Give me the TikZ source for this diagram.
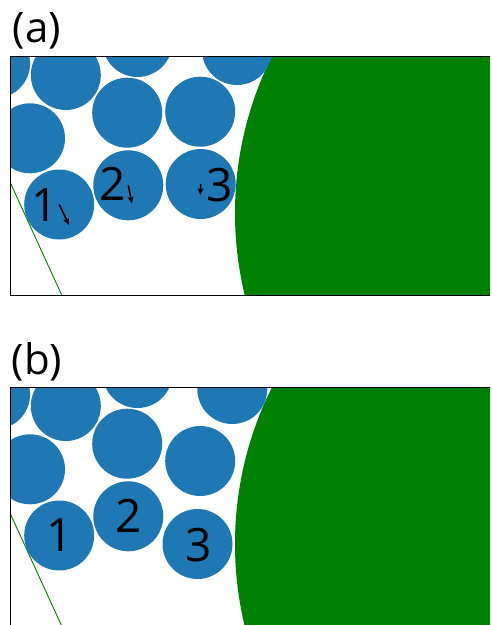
\documentclass[tikz,border=0pt]{standalone}
\usepackage{fontspec}
\setmainfont{Open Sans}
\usepackage{xcolor}
\usetikzlibrary{arrows.meta,calc}
\definecolor{grainblue}{HTML}{1F77B4}
\definecolor{wallgreen}{HTML}{008000}

\begin{document}
\begin{tikzpicture}[x=1pt,y=-1pt,
    grain/.style={fill=grainblue},
    num/.style={inner sep=0pt,font=\fontsize{46}{46}\selectfont},
    panel/.style={inner sep=0pt,font=\fontsize{42}{42}\selectfont},
    push/.style={-{Stealth[length=7pt,width=6pt]},line width=1.6pt}]
  \useasboundingbox (0,0) rectangle (491,625);
  % (a) before, (b) after
  \foreach \yo/\lab/\ptop/\psev/\cthree in {0/a/{237,50}/{200.2,111.7}/{200.7,184},
                                           331/b/{232.3,58}/{200.2,130}/{197.5,213}}{
  \begin{scope}[shift={(0,\yo)}]
    \node[panel] (lab\lab) at (37,30.5) {(\lab)};
    \begin{scope}
      \clip (10,56) rectangle (490,295);
      \fill[wallgreen] (585,213) circle (350);
      \draw[wallgreen,line width=0.9pt] (10,182) -- (61.7,295);
      \foreach \c in {{-4.9,63.3},{65.8,75},{137.5,42},{\ptop},{30,138.3},{127.2,112.7},{\psev}}
        \fill[grain] (\c) circle (35);
      \coordinate (c1\lab) at (59.2,204.5);
      \coordinate (c2\lab) at (128.3,185.3);
      \coordinate (c3\lab) at (\cthree);
      \fill[grain] (c1\lab) circle (35);
      \fill[grain] (c2\lab) circle (35);
      \fill[grain] (c3\lab) circle (35);
    \end{scope}
    \draw[line width=1pt] (490,56) -- (10,56) -- (10,295) -- (490,295);
  \end{scope}
  }
  % labels and pushes in (a)
  \node[num] (n1a) at (45,205) {1};
  \node[num] (n2a) at (112.5,184) {2};
  \node[num] (n3a) at (220,185) {3};
  \coordinate (e1) at (69,225);
  \coordinate (e2) at (132,203.5);
  \coordinate (e3) at (200.3,195);
  \draw[push] (c1a) -- (e1);
  \draw[push] (c2a) -- (e2);
  \draw[push] (c3a) -- (e3);
  % labels in (b)
  \node[num] (n1b) at (c1b) {1};
  \node[num] (n2b) at (c2b) {2};
  \node[num] (n3b) at ($(c3b)+(1,1)$) {3};
\end{tikzpicture}
\end{document}
